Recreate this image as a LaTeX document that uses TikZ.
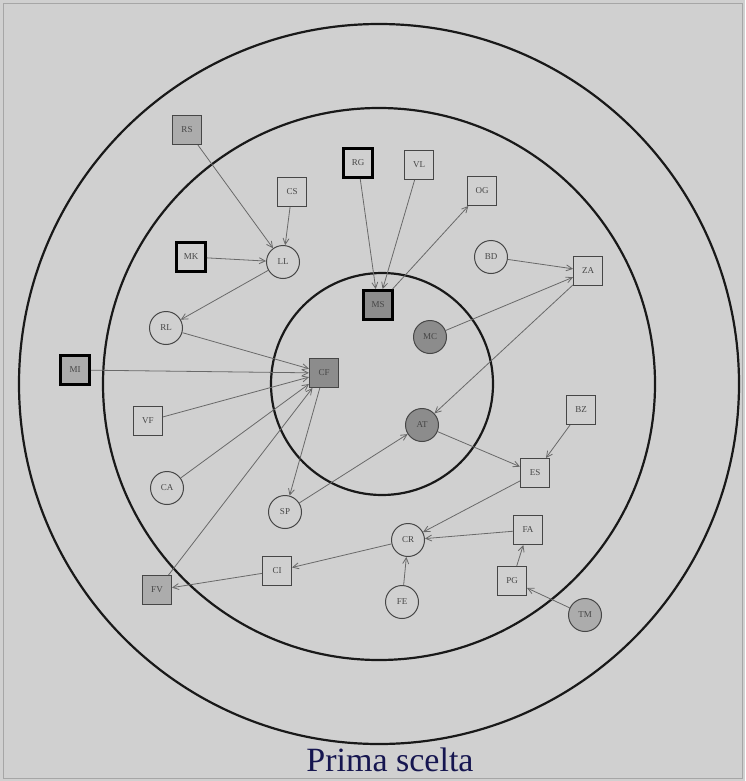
\documentclass[tikz,border=0pt]{standalone}
\usepackage{fontspec}
\setmainfont{Liberation Serif}
\usetikzlibrary{arrows.meta}
\definecolor{bgcol}{RGB}{208,208,208}
\definecolor{edgecol}{RGB}{105,105,105}
\definecolor{nodeline}{RGB}{70,70,70}
\definecolor{lightfill}{RGB}{172,172,172}
\definecolor{darkfill}{RGB}{140,140,140}
\definecolor{titlecol}{RGB}{22,22,80}
\tikzset{
  sq/.style={draw=nodeline, line width=1pt, minimum size=29pt, inner sep=0pt, font=\fontsize{9}{9}\selectfont, text=nodeline},
  bsq/.style={sq, draw=black, line width=2.8pt},
  rnd/.style={circle, draw=nodeline, line width=1pt, minimum size=33pt, inner sep=0pt, font=\fontsize{9}{9}\selectfont, text=nodeline},
  lf/.style={fill=lightfill},
  df/.style={fill=darkfill},
  ring/.style={draw=black!90, line width=2.2pt},
  link/.style={draw=edgecol, line width=0.8pt, -{Straight Barb[length=6pt,width=6pt]}},
}
\begin{document}
\begin{tikzpicture}[x=1pt,y=-1pt]
\useasboundingbox (0,0) rectangle (745,781);
\fill[bgcol] (0,0) rectangle (745,781);
\draw[gray!70, line width=0.8pt] (3,3) rectangle (742,778);
\coordinate (ctr) at (379,384);
\draw[ring] (ctr) circle[radius=360pt];
\draw[ring] (ctr) circle[radius=276pt];
\draw[ring] (382,384) circle[radius=111pt];

% nodes
\node[sq,lf] (RS) at (187,130) {RS};
\node[sq] (CS) at (292,192) {CS};
\node[bsq] (MK) at (191,257) {MK};
\node[rnd] (LL) at (283,262) {LL};
\node[bsq] (RG) at (358,163) {RG};
\node[sq] (VL) at (419,165) {VL};
\node[sq] (OG) at (482,191) {OG};
\node[rnd] (BD) at (491,257) {BD};
\node[sq] (ZA) at (588,271) {ZA};
\node[bsq,df] (MS) at (378,305) {MS};
\node[rnd,df] (MC) at (430,337) {MC};
\node[rnd] (RL) at (166,328) {RL};
\node[bsq,lf] (MI) at (75,370) {MI};
\node[sq,df] (CF) at (324,373) {CF};
\node[sq] (VF) at (148,421) {VF};
\node[rnd,df] (AT) at (422,425) {AT};
\node[sq] (BZ) at (581,410) {BZ};
\node[sq] (ES) at (535,473) {ES};
\node[rnd] (CA) at (167,488) {CA};
\node[rnd] (SP) at (285,512) {SP};
\node[sq] (FA) at (528,530) {FA};
\node[rnd] (CR) at (408,540) {CR};
\node[sq] (CI) at (277,571) {CI};
\node[sq] (PG) at (512,581) {PG};
\node[sq,lf] (FV) at (157,590) {FV};
\node[rnd] (FE) at (402,602) {FE};
\node[rnd,lf] (TM) at (585,615) {TM};

% connectors
\draw[link] (RS) -- (LL);
\draw[link] (CS) -- (LL);
\draw[link] (MK) -- (LL);
\draw[link] (LL) -- (RL);
\draw[link] (RL) -- (CF);
\draw[link] (MI) -- (CF);
\draw[link] (VF) -- (CF);
\draw[link] (CA) -- (CF);
\draw[link] (FV) -- (CF);
\draw[link] (CF) -- (SP);
\draw[link] (SP) -- (AT);
\draw[link] (RG) -- (MS);
\draw[link] (VL) -- (MS);
\draw[link] (MS) -- (OG);
\draw[link] (BD) -- (ZA);
\draw[link] (MC) -- (ZA);
\draw[link] (ZA) -- (AT);
\draw[link] (AT) -- (ES);
\draw[link] (BZ) -- (ES);
\draw[link] (ES) -- (CR);
\draw[link] (FA) -- (CR);
\draw[link] (FE) -- (CR);
\draw[link] (PG) -- (FA);
\draw[link] (TM) -- (PG);
\draw[link] (CR) -- (CI);
\draw[link] (CI) -- (FV);

\node[text=titlecol, font=\fontsize{34}{38}\selectfont] (title) at (390,760) {Prima scelta};
\end{tikzpicture}
\end{document}
